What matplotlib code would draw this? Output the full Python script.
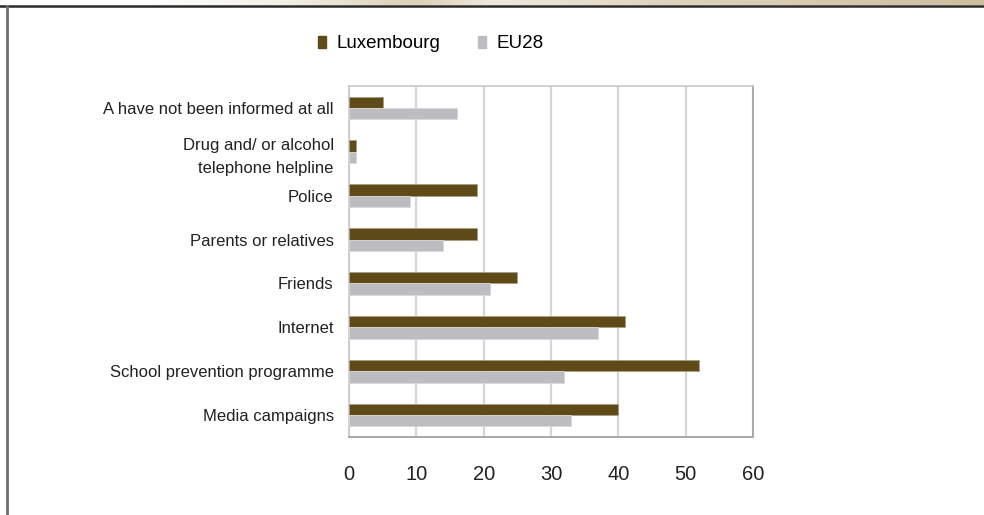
import numpy as np
import matplotlib
matplotlib.use("Agg")
import matplotlib.pyplot as plt
from matplotlib.patches import Patch
from matplotlib.colors import LinearSegmentedColormap

plt.rcParams['font.family'] = ['Liberation Sans', 'DejaVu Sans']

# data, bottom to top
categories = ["Media campaigns", "School prevention programme", "Internet", "Friends",
              "Parents or relatives", "Police", "Drug and/ or alcohol\ntelephone helpline",
              "A have not been informed at all"]
luxembourg = [40, 52, 41, 25, 19, 19, 1, 5]
eu28 = [33, 32, 37, 21, 14, 9, 1, 16]
xticks = [0, 10, 20, 30, 40, 50, 60]

lux_col = "#5E4B17"
eu_col = "#BDBDC1"

fig = plt.figure(figsize=(9.84, 5.15), dpi=100)

# decorative band at the top + frame
band = fig.add_axes([0, 1 - 5 / 515, 1, 5 / 515])
grad = np.linspace(0, 1, 256).reshape(1, -1)
bcmap = LinearSegmentedColormap.from_list(
    "b", [(0, "#FFFFFF"), (0.15, "#FFFFFF"), (0.3, "#F2EDE2"), (0.42, "#DCD0B6"),
          (0.5, "#EFE9DC"), (0.7, "#DDD2BA"), (1, "#CDBE9E")])
band.imshow(grad, aspect="auto", cmap=bcmap)
band.axis("off")
fig.add_artist(plt.Line2D([0, 1], [1 - 5.5 / 515, 1 - 5.5 / 515], color="#2a2a2a", lw=1.8))
fig.add_artist(plt.Line2D([6.5 / 984, 6.5 / 984], [0, 1 - 5.5 / 515], color="#707070", lw=2))

ax = fig.add_axes([349 / 984, 1 - 437 / 515, 404 / 984, 351 / 515])

y = np.arange(len(categories))
h = 0.26
ax.barh(y + h / 2, luxembourg, height=h, color=lux_col, edgecolor="#A89F86", linewidth=0.6, zorder=3)
ax.barh(y - h / 2, eu28, height=h, color=eu_col, edgecolor="#D8D8DA", linewidth=0.6, zorder=3)

ax.set_xlim(0, 60)
ax.set_ylim(-0.5, len(categories) - 0.5)
ax.set_xticks(xticks)
ax.set_xticklabels([str(v) for v in xticks], fontsize=14.5, color="#222222")
ax.set_yticks(y)
ax.set_yticklabels(categories, fontsize=12, color="#222222", ha="right", linespacing=1.6)
ax.tick_params(axis="x", length=0, pad=20)
ax.tick_params(axis="y", length=0, pad=11)
ax.xaxis.grid(True, color="#D6D6D6", lw=1.6, zorder=0)
ax.set_axisbelow(True)

for s in ["left", "top"]:
    ax.spines[s].set_color("#C8C8C8")
    ax.spines[s].set_linewidth(1.2)
for s in ["right", "bottom"]:
    ax.spines[s].set_color("#A8A8A8")
    ax.spines[s].set_linewidth(1.4)

handles = [Patch(color=lux_col, label="Luxembourg"), Patch(color=eu_col, label="EU28")]
fig.legend(handles=handles, loc="center", bbox_to_anchor=(431 / 984, 1 - 44 / 515), ncol=2,
           frameon=False, fontsize=13.5, handlelength=0.4, handleheight=0.6, handletextpad=0.6,
           columnspacing=2.0)

fig.savefig("out.png", dpi=100)
